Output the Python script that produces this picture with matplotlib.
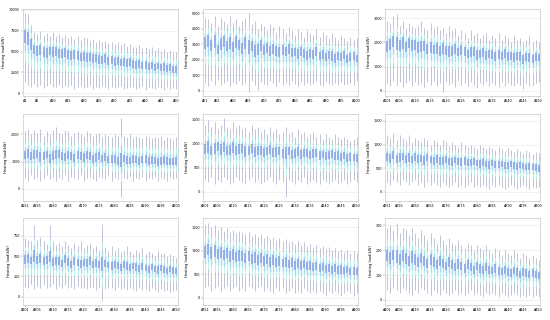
import matplotlib
matplotlib.use("Agg")
import matplotlib.pyplot as plt

# first building number of each panel
panel_start = [1, 51, 101, 151, 201, 251, 301, 351, 401]

med_p1 = [7100, 6900, 6100, 5500, 5300, 5400, 5200, 5000, 5300, 5100, 5200, 4900, 5000, 5100, 4800, 4600, 4900, 4700, 4500, 4600, 4400, 4500, 4300, 4400, 4200, 4100, 4300, 4000, 4100, 3900, 4000, 3800, 3900, 3700, 3800, 3600, 3500, 3600, 3400, 3500, 3300, 3400, 3200, 3300, 3100, 3200, 3000, 3100, 2900, 2900]
hi_p1 = [9600, 9500, 8200, 7300, 7100, 7400, 7000, 7200, 6900, 7300, 6800, 7100, 6700, 7000, 6600, 6900, 6500, 6800, 6400, 6700, 6600, 6300, 6500, 6200, 6400, 6100, 6300, 6000, 6200, 5900, 6100, 5800, 6000, 5700, 5900, 5600, 5500, 5800, 5400, 5600, 5300, 5500, 5200, 5400, 5100, 5300, 5000, 5200, 4900, 5000]
lo_p1 = [1300, 1000, 800, 1100, 700, 1000, 600, 900, 1100, 700, 800, 1000, 600, 900, 700, 1000, 500, 800, 900, 600, 700, 1000, 500, 800, 600, 900, 700, 500, 800, 600, 700, 900, 500, 600, 800, 700, 500, 600, 900, 400, 700, 600, 500, 800, 600, 400, 700, 500, 600, 500]

med_p2 = [3200, 3400, 3000, 3300, 2700, 3100, 3300, 3000, 3200, 2900, 3300, 3100, 2800, 3200, 2900, 3000, 2600, 2800, 3000, 2700, 2900, 2600, 2800, 2700, 2500, 2700, 2600, 2800, 2500, 2600, 2400, 2600, 2500, 2300, 2500, 2400, 2600, 2300, 2400, 2200, 2400, 2300, 2100, 2300, 2200, 2400, 2100, 2200, 2300, 2100]
hi_p2 = [4700, 4600, 4400, 4800, 4200, 4700, 4500, 4300, 4800, 4400, 4600, 4200, 4500, 4700, 5020, 4300, 4500, 4000, 4400, 4200, 3900, 4300, 4100, 3800, 4200, 4000, 3700, 4100, 3900, 3600, 4000, 3800, 3500, 3900, 3700, 3600, 4000, 3500, 3800, 3600, 3400, 3700, 3500, 3300, 3600, 3400, 3200, 3500, 3300, 3400]
lo_p2 = [500, 300, 600, 400, 700, 350, 500, 650, 300, 550, 450, 600, 350, 500, -80, 600, 400, 50, 550, 450, 350, 600, 500, 300, 550, 400, 500, 350, 600, 450, 300, 550, 400, 500, 350, 450, 600, 400, 300, 550, 450, 350, 500, 400, 550, 350, 450, 500, 400, 600]

med_p3 = [1900, 2000, 2100, 2000, 1950, 2100, 1900, 2050, 1950, 2000, 1850, 1900, 1950, 1800, 1850, 1750, 1800, 1700, 1850, 1750, 1650, 1700, 1800, 1650, 1750, 1700, 1600, 1650, 1700, 1550, 1600, 1650, 1500, 1600, 1550, 1450, 1550, 1500, 1600, 1450, 1500, 1400, 1500, 1450, 1350, 1450, 1400, 1350, 1450, 1400]
hi_p3 = [2900, 2800, 3100, 3200, 2700, 2900, 2600, 2800, 2700, 2600, 2700, 2900, 2600, 2500, 2800, 2600, 2700, 2500, 2600, 2400, 2700, 2500, 2600, 2300, 2500, 2400, 2200, 2500, 2300, 2400, 2200, 2300, 2400, 2100, 2300, 2200, 2400, 2100, 2300, 2200, 2000, 2300, 2100, 2200, 2000, 2100, 2300, 2000, 2100, 2000]
lo_p3 = [300, 200, 400, 250, 350, 150, 300, 400, 200, 350, 250, 300, 150, 350, 250, 400, 200, 300, -50, 350, 250, 300, 150, 400, 250, 300, 200, 350, 250, 100, 300, 250, 350, 200, 300, 250, 150, 350, 200, 300, 250, 200, 300, 250, 50, 300, 200, 250, 300, 350]

med_p4 = [1250, 1300, 1200, 1250, 1300, 1150, 1200, 1250, 1100, 1200, 1250, 1300, 1200, 1150, 1250, 1200, 1100, 1250, 1200, 1150, 1250, 1200, 1100, 1150, 1200, 1100, 1150, 1050, 1100, 1050, 1000, 1050, 1100, 1050, 1000, 1100, 1050, 1000, 1050, 1100, 1000, 1050, 1000, 950, 1000, 1050, 1000, 950, 1000, 1000]
hi_p4 = [2100, 2200, 2000, 2150, 2050, 2200, 1950, 2100, 2000, 2150, 2250, 2050, 2000, 2150, 2100, 1950, 2050, 2100, 2000, 1950, 2100, 2050, 1950, 2000, 2050, 1900, 2000, 1950, 1900, 2000, 1950, 2600, 1950, 1900, 2000, 1850, 1950, 1900, 1850, 1950, 1900, 1850, 1900, 1850, 1950, 1800, 1900, 1850, 1800, 1900]
lo_p4 = [400, 300, 500, 350, 450, 300, 400, 500, 350, 450, 300, 400, 350, 500, 300, 450, 400, 350, 500, 300, 400, 450, 350, 300, 450, 400, 350, 500, 300, 400, 350, -300, 400, 350, 450, 300, 400, 350, 450, 300, 400, 350, 450, 300, 400, 350, 300, 450, 350, 400]

med_p5 = [900, 950, 880, 920, 970, 900, 940, 880, 910, 950, 870, 900, 930, 860, 890, 920, 850, 880, 900, 840, 870, 900, 830, 860, 880, 820, 850, 870, 800, 830, 860, 790, 820, 840, 780, 810, 830, 770, 800, 760, 790, 810, 750, 780, 740, 770, 720, 750, 730, 700]
hi_p5 = [1400, 1500, 1350, 1450, 1300, 1400, 1540, 1350, 1300, 1450, 1350, 1400, 1300, 1350, 1250, 1400, 1300, 1350, 1250, 1300, 1200, 1350, 1250, 1300, 1200, 1250, 1350, 1200, 1250, 1150, 1300, 1200, 1250, 1150, 1200, 1250, 1150, 1200, 1100, 1200, 1150, 1100, 1200, 1150, 1100, 1150, 1100, 1050, 1100, 1150]
lo_p5 = [250, 200, 300, 150, 250, 200, 300, 250, 150, 200, 300, 250, 200, 150, 250, 300, 200, 250, 150, 200, 250, 300, 200, 150, 250, 200, -110, 250, 200, 150, 250, 200, 300, 150, 200, 250, 200, 150, 250, 200, 150, 200, 250, 150, 200, 250, 150, 200, 250, 200]

med_p6 = [750, 720, 780, 700, 740, 760, 710, 730, 690, 750, 700, 720, 680, 740, 700, 660, 710, 680, 650, 700, 670, 640, 690, 660, 630, 670, 640, 620, 660, 630, 600, 640, 610, 590, 630, 600, 580, 610, 590, 560, 600, 570, 550, 580, 560, 530, 560, 540, 520, 500]
hi_p6 = [1200, 1150, 1250, 1100, 1200, 1150, 1100, 1200, 1050, 1150, 1100, 1050, 1150, 1100, 1000, 1100, 1050, 1000, 1100, 1050, 980, 1050, 1000, 950, 1050, 1000, 950, 1000, 950, 900, 1000, 950, 900, 950, 920, 880, 950, 900, 860, 920, 880, 850, 900, 860, 820, 880, 840, 800, 850, 820]
lo_p6 = [200, 150, 250, 200, 150, 250, 200, 150, 200, 250, 150, 200, 100, 200, 150, 200, 150, 100, 200, 150, 100, 150, 200, 100, 150, 100, 150, 200, 100, 150, 100, 150, 100, 50, 150, 100, 150, 100, 50, 100, 150, 100, 50, 100, 150, 100, 50, 100, 80, 100]

med_p7 = [470, 490, 450, 500, 460, 480, 440, 470, 490, 430, 460, 450, 420, 470, 440, 410, 450, 430, 400, 440, 420, 450, 400, 430, 410, 390, 420, 400, 380, 410, 390, 370, 400, 380, 360, 390, 370, 350, 380, 360, 340, 370, 350, 330, 360, 340, 320, 350, 330, 320]
hi_p7 = [720, 700, 680, 880, 700, 730, 680, 650, 880, 680, 640, 660, 620, 680, 640, 600, 660, 620, 680, 600, 640, 660, 600, 620, 580, 900, 600, 560, 620, 580, 600, 550, 580, 620, 560, 530, 580, 550, 600, 520, 560, 540, 500, 560, 520, 540, 500, 520, 500, 480]
lo_p7 = [120, 100, 150, 90, 130, 110, 140, 100, 120, 150, 90, 130, 110, 140, 100, 120, 90, 130, 100, 110, 90, 120, 100, 80, 110, -50, 90, 110, 100, 80, 120, 90, 100, 80, 110, 90, 70, 100, 80, 90, 70, 100, 80, 60, 90, 70, 80, 60, 70, 80]

med_p8 = [1000, 1050, 980, 1020, 950, 1000, 930, 970, 900, 950, 880, 920, 900, 860, 900, 840, 880, 820, 860, 800, 840, 780, 820, 760, 800, 750, 780, 730, 760, 710, 740, 700, 720, 680, 700, 660, 690, 650, 670, 630, 650, 610, 640, 600, 620, 590, 610, 570, 590, 560]
hi_p8 = [1550, 1600, 1500, 1550, 1450, 1500, 1420, 1480, 1400, 1450, 1380, 1420, 1400, 1350, 1400, 1320, 1360, 1300, 1350, 1280, 1320, 1250, 1300, 1230, 1280, 1200, 1250, 1180, 1220, 1150, 1200, 1130, 1180, 1100, 1150, 1080, 1120, 1060, 1100, 1040, 1080, 1020, 1060, 1000, 1040, 980, 1020, 960, 1000, 950]
lo_p8 = [200, 250, 150, 200, 250, 150, 200, 250, 150, 200, 250, 150, 200, 150, 250, 200, 150, 200, 250, 150, 200, 150, 100, 200, 150, 200, 100, 150, 200, 100, 150, 100, 200, 150, 100, 150, 100, 150, 100, 50, 150, 100, 150, 100, 50, 100, 150, 100, 50, 100]

med_p9 = [180, 170, 185, 175, 165, 180, 170, 160, 175, 165, 155, 170, 160, 150, 165, 155, 145, 160, 150, 140, 155, 145, 135, 150, 140, 130, 145, 135, 125, 140, 130, 125, 135, 125, 120, 130, 120, 115, 125, 115, 110, 120, 115, 105, 115, 110, 105, 110, 105, 100]
hi_p9 = [290, 300, 280, 310, 270, 290, 280, 260, 290, 270, 250, 280, 260, 240, 270, 250, 230, 260, 240, 220, 250, 230, 220, 240, 220, 210, 230, 220, 200, 220, 210, 200, 220, 200, 190, 210, 200, 180, 200, 190, 180, 200, 190, 170, 190, 180, 170, 180, 170, 160]
lo_p9 = [40, 30, 50, 40, 30, 50, 40, 30, 20, 40, 30, 50, 40, 30, 20, 40, 30, 20, 40, 30, 20, 30, 40, 20, 30, 20, 30, 40, 20, 30, 20, 10, 30, 20, 30, 20, 10, 30, 20, 10, 20, 30, 20, 10, 20, 10, 20, 10, 20, 10]

y_ticks = [[0, 2500, 5000, 7500, 10000], [0, 1000, 2000, 3000, 4000, 5000], [0, 1000, 2000, 3000],
           [0, 1000, 2000], [0, 500, 1000, 1500], [0, 500, 1000, 1500],
           [0, 250, 500, 750], [0, 500, 1000, 1500], [0, 100, 200, 300]]
y_lims = [(-330, 10100), (-340, 5280), (-220, 3390),
          (-440, 2740), (-195, 1625), (-195, 1650),
          (-104, 970), (-150, 1700), (-20, 330)]

meds = [med_p1, med_p2, med_p3, med_p4, med_p5, med_p6, med_p7, med_p8, med_p9]
his = [hi_p1, hi_p2, hi_p3, hi_p4, hi_p5, hi_p6, hi_p7, hi_p8, hi_p9]
los = [lo_p1, lo_p2, lo_p3, lo_p4, lo_p5, lo_p6, lo_p7, lo_p8, lo_p9]

# letter-value levels: fraction of median->extreme distance, line width (pt), colour
level_frac = [1.0, 0.55, 0.35, 0.18]
level_lw = [0.45, 0.8, 1.0, 1.2]
level_color = ["#9ea3bf", "#bff3ea", "#a6d8ef", "#8aa5e4"]

fig = plt.figure(figsize=(5.5, 3.2), dpi=100)
lefts = [0.0413, 0.369, 0.700]
bottoms = [0.700, 0.372, 0.047]
W, H = 0.282, 0.272

for p in range(9):
    r, c = divmod(p, 3)
    ax = fig.add_axes([lefts[c], bottoms[r], W, H])
    med, hi, lo = meds[p], his[p], los[p]
    n = len(med)
    xs = list(range(n))
    for k in range(len(level_frac)):
        f = level_frac[k]
        tops = [m + (h - m) * f for m, h in zip(med, hi)]
        bots = [m - (m - l) * f for m, l in zip(med, lo)]
        ax.vlines(xs, bots, tops, colors=level_color[k], linewidth=level_lw[k],
                  zorder=2 + k)
    ax.set_xlim(-0.75, n - 0.55)
    ax.set_ylim(*y_lims[p])
    ax.set_yticks(y_ticks[p])
    ax.set_yticklabels([str(v) for v in y_ticks[p]])
    s = panel_start[p]
    tick_idx = [0] + list(range(4, n, 5))
    ax.set_xticks(tick_idx)
    ax.set_xticklabels(["A%d" % (s + i) for i in tick_idx])
    ax.tick_params(labelsize=2.4, length=1.2, width=0.3, color="#888888", pad=1)
    ax.set_ylabel("Heating load(kW)", fontsize=2.6, labelpad=2)
    ax.grid(axis="y", color="#e6e6e6", linewidth=0.4, zorder=0)
    ax.set_axisbelow(True)
    for sp in ax.spines.values():
        sp.set_color("#c8c8c8")
        sp.set_linewidth(0.5)

fig.savefig("out.png", dpi=100)
